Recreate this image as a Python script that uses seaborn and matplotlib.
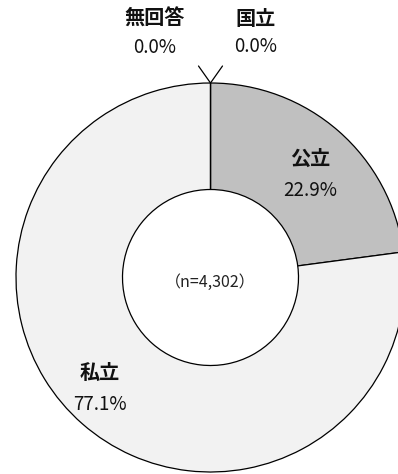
import matplotlib
matplotlib.use("Agg")
import matplotlib.pyplot as plt
import seaborn as sns

sns.set_theme(style="white")
plt.rcParams["font.family"] = ["Noto Sans CJK JP", "DejaVu Sans"]

# School type shares (clockwise from 12 o'clock)
categories = ["国立", "公立", "私立", "無回答"]
shares = [0.0, 22.9, 77.1, 0.0]
colors = ["#8c8c8c", "#c0c0c0", "#f2f2f2", "#ffffff"]
sample_label = "（n=4,302）"

W, H = 398, 474
fig = plt.figure(figsize=(W / 100, H / 100), dpi=100)
ax = fig.add_axes([0, 0, 1, 1])

cx, cy = 210.5, H - 277.5
R_out, R_in = 194.5, 88.0

ax.pie(
    shares,
    colors=colors,
    startangle=90,
    counterclock=False,
    center=(cx, cy),
    radius=R_out,
    wedgeprops=dict(width=R_out - R_in, edgecolor="black", linewidth=0.9),
)
ax.set_xlim(0, W)
ax.set_ylim(0, H)
ax.set_aspect("equal")
ax.axis("off")

# Center caption
ax.text(cx, cy - 5, sample_label, ha="center", va="center", fontsize=11.5, color="#222222")

# Category labels with percentages
label_pos = {
    "公立": (310, 158, 190),
    "私立": (100, 372, 405),
    "無回答": (155, 18, 47),
    "国立": (256, 18, 46),
}
for name, val in zip(categories, shares):
    x, y1, y2 = label_pos[name]
    ax.text(x, H - y1, name, ha="center", va="center", fontsize=14.5,
            fontweight="bold", color="#111111")
    ax.text(x, H - y2, f"{val:.1f}%", ha="center", va="center", fontsize=13.5,
            color="#111111")

# Leader lines for the zero-share categories
top_y = cy + R_out
ax.plot([cx, cx - 12], [top_y, top_y + 17], color="black", lw=0.9)
ax.plot([cx, cx + 12], [top_y, top_y + 17], color="black", lw=0.9)

fig.savefig("out.png", dpi=100, facecolor="white")
